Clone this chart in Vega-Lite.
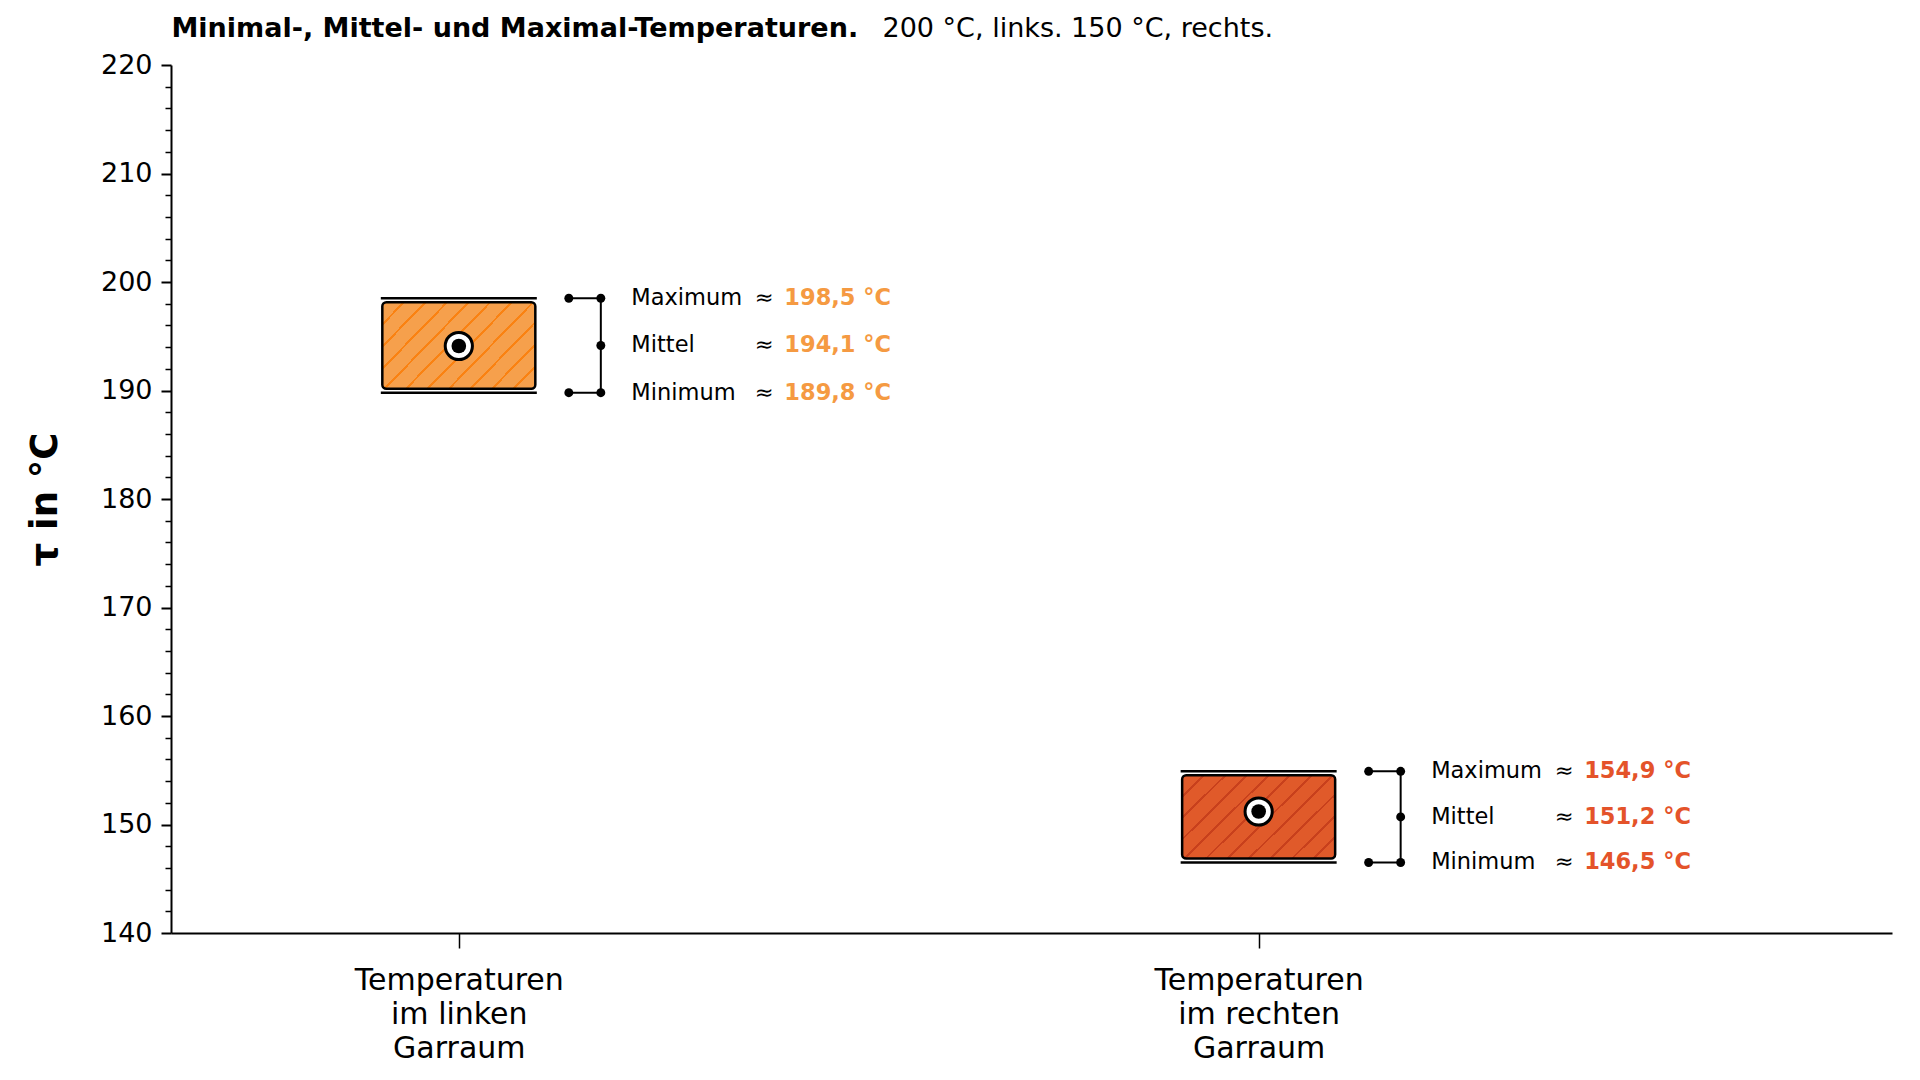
{
  "$schema": "https://vega.github.io/schema/vega-lite/v6.json",
  "autosize": {"type": "none"},
  "width": 1721,
  "height": 868,
  "padding": {"left": 171, "top": 65, "right": 28, "bottom": 147},
  "background": "white",
  "config": {
    "font": "DejaVu Sans",
    "view": {"stroke": null},
    "axis": {"grid": false, "domainColor": "black", "tickColor": "black", "labelColor": "black", "titleColor": "black", "labelFont": "DejaVu Sans", "titleFont": "DejaVu Sans"}
  },
  "data": {
    "values": [
      {"raum": "links", "pos": 0, "min": 189.8, "mean": 194.1, "max": 198.5},
      {"raum": "rechts", "pos": 1, "min": 146.5, "mean": 151.2, "max": 154.9}
    ]
  },
  "encoding": {
    "x": {
      "field": "pos",
      "type": "quantitative",
      "scale": {"domain": [-0.3536, 1.7856], "nice": false, "zero": false},
      "axis": null
    }
  },
  "resolve": {"axis": {"x": "independent", "y": "independent"}},
  "layer": [
    {
      "mark": {"type": "point", "opacity": 0},
      "encoding": {
        "x": {
          "field": "pos",
          "type": "quantitative",
          "scale": {"domain": [-0.3536, 1.7856], "nice": false, "zero": false},
          "axis": {
            "orient": "bottom",
            "values": [0, 1],
            "title": null,
            "labelExpr": "datum.value == 0 ? ['Temperaturen', 'im linken', 'Garraum'] : ['Temperaturen', 'im rechten', 'Garraum']",
            "labelFontSize": 30,
            "labelLineHeight": 34,
            "labelPadding": 17,
            "labelLimit": 500,
            "labelBaseline": "top",
            "tickSize": 15,
            "tickWidth": 1.5,
            "domainWidth": 2
          }
        },
        "y": {
          "field": "mean",
          "type": "quantitative",
          "scale": {"domain": [140, 220], "nice": false, "zero": false},
          "axis": {
            "orient": "left",
            "values": [140, 150, 160, 170, 180, 190, 200, 210, 220],
            "title": "τ in °C",
            "titleFontSize": 37,
            "titleFontWeight": "bold",
            "titlePadding": 36,
            "labelFontSize": 27,
            "labelPadding": 9,
            "tickSize": 10,
            "tickWidth": 2,
            "domainWidth": 2
          }
        }
      }
    },
    {
      "mark": {"type": "point", "opacity": 0},
      "encoding": {
        "x": {
          "field": "pos",
          "type": "quantitative",
          "scale": {"domain": [-0.3536, 1.7856], "nice": false, "zero": false},
          "axis": {
            "orient": "top",
            "title": "200 °C, links. 150 °C, rechts.",
            "titleFontSize": 27,
            "titleFontWeight": "normal",
            "titleAnchor": "start",
            "titleAlign": "left",
            "titleBaseline": "alphabetic",
            "titleX": 711,
            "titleY": -29,
            "labels": false,
            "ticks": false,
            "domain": false,
            "values": []
          }
        },
        "y": {
          "field": "mean",
          "type": "quantitative",
          "scale": {"domain": [140, 220], "nice": false, "zero": false},
          "axis": {
            "orient": "left",
            "values": [142, 144, 146, 148, 152, 154, 156, 158, 162, 164, 166, 168, 172, 174, 176, 178, 182, 184, 186, 188, 192, 194, 196, 198, 202, 204, 206, 208, 212, 214, 216, 218],
            "title": null,
            "labels": false,
            "domain": false,
            "tickSize": 6,
            "tickWidth": 1.5
          }
        }
      }
    },
    {
      "mark": {"type": "point", "opacity": 0},
      "encoding": {
        "x": {
          "field": "pos",
          "type": "quantitative",
          "scale": {"domain": [-0.3536, 1.7856], "nice": false, "zero": false},
          "axis": {
            "orient": "top",
            "title": "Minimal-, Mittel- und Maximal-Temperaturen.",
            "titleFontSize": 27,
            "titleFontWeight": "bold",
            "titleAnchor": "start",
            "titleAlign": "left",
            "titleBaseline": "alphabetic",
            "titleX": 0,
            "titleY": -29,
            "labels": false,
            "ticks": false,
            "domain": false,
            "values": []
          }
        },
        "y": {"field": "mean", "type": "quantitative", "axis": null}
      }
    },
    {
      "transform": [{"filter": "datum.raum == 'links'"}],
      "mark": {
        "type": "bar",
        "width": 153,
        "yOffset": 4,
        "y2Offset": -4,
        "stroke": "black",
        "strokeWidth": 2.5,
        "cornerRadius": 4,
        "fill": {
          "gradient": "linear", "x1": 0, "y1": 0, "x2": 1.19, "y2": 0.654,
          "stops": [
            {"offset": 0, "color": "#F6A04C"},
            {"offset": 0.085, "color": "#F6A04C"}, {"offset": 0.085, "color": "#FA8212"}, {"offset": 0.097, "color": "#FA8212"}, {"offset": 0.097, "color": "#F6A04C"},
            {"offset": 0.176, "color": "#F6A04C"}, {"offset": 0.176, "color": "#FA8212"}, {"offset": 0.188, "color": "#FA8212"}, {"offset": 0.188, "color": "#F6A04C"},
            {"offset": 0.267, "color": "#F6A04C"}, {"offset": 0.267, "color": "#FA8212"}, {"offset": 0.279, "color": "#FA8212"}, {"offset": 0.279, "color": "#F6A04C"},
            {"offset": 0.358, "color": "#F6A04C"}, {"offset": 0.358, "color": "#FA8212"}, {"offset": 0.370, "color": "#FA8212"}, {"offset": 0.370, "color": "#F6A04C"},
            {"offset": 0.449, "color": "#F6A04C"}, {"offset": 0.449, "color": "#FA8212"}, {"offset": 0.461, "color": "#FA8212"}, {"offset": 0.461, "color": "#F6A04C"},
            {"offset": 0.540, "color": "#F6A04C"}, {"offset": 0.540, "color": "#FA8212"}, {"offset": 0.552, "color": "#FA8212"}, {"offset": 0.552, "color": "#F6A04C"},
            {"offset": 0.630, "color": "#F6A04C"}, {"offset": 0.630, "color": "#FA8212"}, {"offset": 0.642, "color": "#FA8212"}, {"offset": 0.642, "color": "#F6A04C"},
            {"offset": 0.721, "color": "#F6A04C"}, {"offset": 0.721, "color": "#FA8212"}, {"offset": 0.733, "color": "#FA8212"}, {"offset": 0.733, "color": "#F6A04C"},
            {"offset": 0.812, "color": "#F6A04C"}, {"offset": 0.812, "color": "#FA8212"}, {"offset": 0.824, "color": "#FA8212"}, {"offset": 0.824, "color": "#F6A04C"},
            {"offset": 0.903, "color": "#F6A04C"}, {"offset": 0.903, "color": "#FA8212"}, {"offset": 0.915, "color": "#FA8212"}, {"offset": 0.915, "color": "#F6A04C"},
            {"offset": 1, "color": "#F6A04C"}
          ]
        }
      },
      "encoding": {
        "y": {"field": "max", "type": "quantitative", "axis": null},
        "y2": {"field": "min"}
      }
    },
    {
      "transform": [{"filter": "datum.raum == 'rechts'"}],
      "mark": {
        "type": "bar",
        "width": 153,
        "yOffset": 4,
        "y2Offset": -4,
        "stroke": "black",
        "strokeWidth": 2.5,
        "cornerRadius": 4,
        "fill": {
          "gradient": "linear", "x1": 0, "y1": 0, "x2": 1.19, "y2": 0.654,
          "stops": [
            {"offset": 0, "color": "#E05A2A"},
            {"offset": 0.085, "color": "#E05A2A"}, {"offset": 0.085, "color": "#C8401C"}, {"offset": 0.097, "color": "#C8401C"}, {"offset": 0.097, "color": "#E05A2A"},
            {"offset": 0.176, "color": "#E05A2A"}, {"offset": 0.176, "color": "#C8401C"}, {"offset": 0.188, "color": "#C8401C"}, {"offset": 0.188, "color": "#E05A2A"},
            {"offset": 0.267, "color": "#E05A2A"}, {"offset": 0.267, "color": "#C8401C"}, {"offset": 0.279, "color": "#C8401C"}, {"offset": 0.279, "color": "#E05A2A"},
            {"offset": 0.358, "color": "#E05A2A"}, {"offset": 0.358, "color": "#C8401C"}, {"offset": 0.370, "color": "#C8401C"}, {"offset": 0.370, "color": "#E05A2A"},
            {"offset": 0.449, "color": "#E05A2A"}, {"offset": 0.449, "color": "#C8401C"}, {"offset": 0.461, "color": "#C8401C"}, {"offset": 0.461, "color": "#E05A2A"},
            {"offset": 0.540, "color": "#E05A2A"}, {"offset": 0.540, "color": "#C8401C"}, {"offset": 0.552, "color": "#C8401C"}, {"offset": 0.552, "color": "#E05A2A"},
            {"offset": 0.630, "color": "#E05A2A"}, {"offset": 0.630, "color": "#C8401C"}, {"offset": 0.642, "color": "#C8401C"}, {"offset": 0.642, "color": "#E05A2A"},
            {"offset": 0.721, "color": "#E05A2A"}, {"offset": 0.721, "color": "#C8401C"}, {"offset": 0.733, "color": "#C8401C"}, {"offset": 0.733, "color": "#E05A2A"},
            {"offset": 0.812, "color": "#E05A2A"}, {"offset": 0.812, "color": "#C8401C"}, {"offset": 0.824, "color": "#C8401C"}, {"offset": 0.824, "color": "#E05A2A"},
            {"offset": 0.903, "color": "#E05A2A"}, {"offset": 0.903, "color": "#C8401C"}, {"offset": 0.915, "color": "#C8401C"}, {"offset": 0.915, "color": "#E05A2A"},
            {"offset": 1, "color": "#E05A2A"}
          ]
        }
      },
      "encoding": {
        "y": {"field": "max", "type": "quantitative", "axis": null},
        "y2": {"field": "min"}
      }
    },
    {
      "transform": [{"fold": ["max", "min"], "as": ["stat", "wert"]}],
      "mark": {"type": "tick", "orient": "horizontal", "size": 156, "thickness": 2.5, "color": "black", "opacity": 1},
      "encoding": {
        "y": {"field": "wert", "type": "quantitative", "axis": null}
      }
    },
    {
      "mark": {"type": "point", "shape": "circle", "filled": true, "fill": "white", "stroke": "black", "strokeWidth": 3, "size": 740, "opacity": 1},
      "encoding": {
        "y": {"field": "mean", "type": "quantitative", "axis": null}
      }
    },
    {
      "mark": {"type": "point", "shape": "circle", "filled": true, "color": "black", "size": 215, "opacity": 1},
      "encoding": {
        "y": {"field": "mean", "type": "quantitative", "axis": null}
      }
    },
    {
      "transform": [
        {"calculate": "(datum.max + datum.min) / 2", "as": "mitte"},
        {"fold": ["max", "mitte", "min"], "as": ["stat", "wert"]}
      ],
      "layer": [
        {
          "transform": [{"filter": "datum.stat != 'mitte'"}],
          "mark": {"type": "rule", "color": "black", "strokeWidth": 2, "xOffset": 110, "x2Offset": 142},
          "encoding": {
            "x2": {"field": "pos"},
            "y": {"field": "wert", "type": "quantitative", "axis": null}
          }
        },
        {
          "transform": [{"filter": "datum.stat != 'mitte'"}],
          "mark": {"type": "point", "shape": "circle", "filled": true, "color": "black", "size": 80, "opacity": 1, "xOffset": 110},
          "encoding": {
            "y": {"field": "wert", "type": "quantitative", "axis": null}
          }
        },
        {
          "mark": {"type": "point", "shape": "circle", "filled": true, "color": "black", "size": 80, "opacity": 1, "xOffset": 142},
          "encoding": {
            "y": {"field": "wert", "type": "quantitative", "axis": null}
          }
        }
      ]
    },
    {
      "mark": {"type": "rule", "color": "black", "strokeWidth": 2, "xOffset": 142},
      "encoding": {
        "y": {"field": "max", "type": "quantitative", "axis": null},
        "y2": {"field": "min"}
      }
    },
    {
      "transform": [
        {"calculate": "(datum.max + datum.min) / 2", "as": "mitte"},
        {"fold": ["max", "mitte", "min"], "as": ["stat", "pos_y"]},
        {"calculate": "datum.stat == 'max' ? 'Maximum' : (datum.stat == 'mitte' ? 'Mittel' : 'Minimum')", "as": "name"},
        {"calculate": "datum.stat == 'max' ? datum.max : (datum.stat == 'mitte' ? datum.mean : datum.min)", "as": "wert"},
        {"calculate": "replace(format(datum.wert, '.1f'), '.', ',') + ' °C'", "as": "werttext"}
      ],
      "layer": [
        {
          "mark": {"type": "text", "align": "left", "baseline": "middle", "xOffset": 172.5, "fontSize": 22.5, "color": "black", "font": "DejaVu Sans"},
          "encoding": {
            "y": {"field": "pos_y", "type": "quantitative", "axis": null},
            "text": {"field": "name"}
          }
        },
        {
          "mark": {"type": "text", "align": "left", "baseline": "middle", "xOffset": 296, "fontSize": 22.5, "color": "black", "font": "DejaVu Sans", "text": "≈"},
          "encoding": {
            "y": {"field": "pos_y", "type": "quantitative", "axis": null}
          }
        },
        {
          "mark": {"type": "text", "align": "left", "baseline": "middle", "xOffset": 325.5, "fontSize": 22.5, "fontWeight": "bold", "font": "DejaVu Sans"},
          "encoding": {
            "y": {"field": "pos_y", "type": "quantitative", "axis": null},
            "text": {"field": "werttext"},
            "color": {"field": "raum", "type": "nominal", "scale": {"domain": ["links", "rechts"], "range": ["#F59A42", "#E4532A"]}, "legend": null}
          }
        }
      ]
    }
  ]
}
